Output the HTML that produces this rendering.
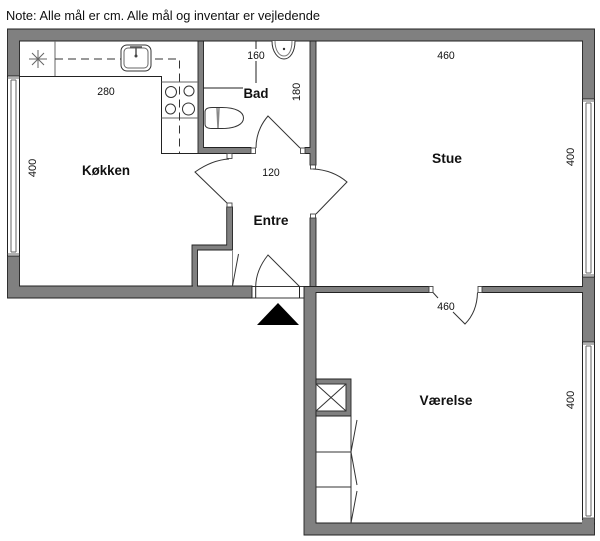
<!DOCTYPE html>
<html><head><meta charset="utf-8"><style>
html,body{margin:0;padding:0;background:#fff}
svg{display:block}
text{font-family:"Liberation Sans",sans-serif;fill:#111}
.w{fill:#808080;stroke:#222;stroke-width:.9}
.f{fill:#808080}
.j{fill:#fff;stroke:#444;stroke-width:.9}
.l{fill:none;stroke:#222;stroke-width:1}
.g{fill:none;stroke:#666;stroke-width:1}
.s{fill:none;stroke:#333;stroke-width:1}
.d{fill:none;stroke:#333;stroke-width:1;stroke-dasharray:8 5}
.b{font-weight:bold;font-size:14px;text-anchor:middle}
.n{font-size:11px;text-anchor:middle}
</style></head><body>
<svg width="600" height="541" viewBox="0 0 600 541" xmlns="http://www.w3.org/2000/svg">
<rect width="600" height="541" fill="#fff"/>
<text x="6" y="20" font-size="12.500" textLength="314" lengthAdjust="spacingAndGlyphs">Note: Alle mål er cm. Alle mål og inventar er vejledende</text>

<!-- outer walls -->
<path class="w" d="M7.500 29H594.500V99H582.500V41H19.500V76H7.500Z"/>
<path class="w" d="M7.500 256H19.500V286H252V298H7.500Z"/>
<path class="w" d="M582.500 277H594.500V342H582.500V292.500H482V286.500H582.500Z"/>
<path class="w" d="M304 286.500H429V292.500H316V523H594.500V535H304Z"/>
<path class="w" d="M582.500 520H594.500V524H582.500Z"/>
<rect class="f" x="582" y="518.500" width="12" height="10"/>
<rect class="f" x="305" y="287.500" width="10.500" height="240"/>
<rect class="f" x="316" y="524" width="270" height="10"/>

<!-- windows -->
<path class="l" d="M7.500 76V256M19.500 76V256M582.500 99V277M594.500 99V277M582.500 342V520M594.500 342V520"/>
<path class="g" d="M11 80V252M16 80V252M11 80H16M11 252H16M7.500 78H19.500M7.500 254H19.500"/>
<path class="g" d="M586 103V273M591 103V273M586 103H591M586 273H591M582.500 101H594.500M582.500 275H594.500"/>
<path class="g" d="M586 346V516M591 346V516M586 346H591M586 516H591M582.500 344H594.500M582.500 518H594.500"/>

<!-- inner walls -->
<path class="w" d="M198 41H203.500V147.500H251V153.500H198Z"/>
<path class="w" d="M310 41H316V165H310V153.500H305V147.500H310Z"/>
<path class="w" d="M310 218H316V286.500H310Z"/>
<path class="w" d="M226.700 207H232.500V250H197.500V286H192V245H226.700Z"/>
<rect class="f" x="311" y="146" width="4.500" height="10"/>
<rect class="f" x="193" y="285" width="4" height="2"/>

<!-- jambs -->
<rect class="j" x="251" y="148" width="4.500" height="5.500"/>
<rect class="j" x="300.500" y="148" width="4.500" height="5.500"/>
<rect class="j" x="227" y="153.500" width="5" height="5"/>
<rect class="j" x="310.500" y="165" width="5" height="4"/>
<rect class="j" x="227" y="203" width="5" height="4"/>
<rect class="j" x="310.500" y="214" width="5" height="4"/>
<rect class="j" x="429" y="286.500" width="4" height="6"/>
<rect class="j" x="478" y="286.500" width="4" height="6"/>

<!-- front door -->
<rect x="252" y="286.500" width="52" height="11.500" fill="#fff" stroke="#222" stroke-width=".9"/>
<path class="l" d="M255.700 286.500V298M299.500 286.500V298"/>
<path fill="#000" d="M278 303L299 325H257Z"/>

<!-- door swings -->
<path class="s" d="M229 159Q212 160 195 172L227 203"/>
<path class="s" d="M313 169Q333 170 347 182L316 214"/>
<path class="s" d="M256 148Q256 130 268 116L300 148"/>
<path class="s" d="M255.700 286.500Q256 270 268 255L299.500 286.500"/>
<path class="s" d="M477.500 292.500Q477 312 465 324L453 312M438 298L433 292.500"/>

<!-- kitchen -->
<path class="l" d="M19.500 76.500H161.500V153.500H198"/>
<path class="g" d="M55 41V76M161.500 82H198M161.500 118H198"/>
<path class="d" d="M55 59H121M155 59H179.500V153"/>
<rect x="121" y="45" width="30" height="26" rx="6" fill="#fff" stroke="#333" stroke-width="1"/>
<rect x="124" y="48" width="24" height="20" rx="4" fill="none" stroke="#666" stroke-width="1"/>
<path d="M130 47H142M136 47V55" stroke="#555" stroke-width="1.500" fill="none"/>
<circle cx="136" cy="56" r="1.500" fill="#444"/>
<path class="g" d="M29 59H47M38 50V68M32 53L44 65M44 53L32 65"/>
<g fill="#fff" stroke="#333" stroke-width="1">
<circle cx="171" cy="92" r="5.500"/><circle cx="189" cy="91" r="5"/>
<circle cx="170.500" cy="109" r="5"/><circle cx="188.500" cy="109" r="6"/>
</g>

<!-- bathroom -->
<path class="l" d="M256 41V49M256 61V83M203.500 88H243"/>
<path fill="#fff" stroke="#333" stroke-width="1" d="M272 41C272 52 278 59 284 59C290 59 295 52 295 41"/>
<path fill="none" stroke="#777" stroke-width="1" d="M275 41C275 50 279 56 284 56C289 56 292 50 292 41"/>
<circle cx="284" cy="49" r="1.200" fill="#333"/>
<path fill="#fff" stroke="#333" stroke-width="1" d="M205 112Q205 107.500 212 107.500H222C236 107.500 243.500 112 243.500 118C243.500 124 236 128.500 222 128.500H212Q205 128.500 205 124Z"/>
<path stroke="#888" stroke-width="1.500" fill="none" d="M217 108L218 128M219 108L218 128"/>

<!-- closet in entry -->
<path class="g" style="stroke:#888" d="M232.500 250V286"/>
<path class="s" d="M232.500 286L238.500 254"/>

<!-- bedroom closets -->
<path class="w" d="M316 379H351V416H316Z"/>
<rect x="316" y="384" width="30" height="27" fill="#fff" stroke="#333" stroke-width="1"/>
<path class="s" d="M316 384L346 411M346 384L316 411"/>
<path class="l" d="M316 416H351"/>
<path class="s" d="M351 416V523M316 452H351M316 487H351"/>
<path class="s" d="M351 452L357 420M351 452L357 485M351 523L357 491"/>

<!-- labels -->
<text class="n" x="106" y="95" textLength="17.500" lengthAdjust="spacingAndGlyphs">280</text>
<text class="n" transform="translate(36 168) rotate(-90)">400</text>
<text class="b" x="106" y="175" textLength="48" lengthAdjust="spacingAndGlyphs">Køkken</text>
<text class="n" x="256" y="59" textLength="17.500" lengthAdjust="spacingAndGlyphs">160</text>
<text class="b" x="256" y="98" textLength="25" lengthAdjust="spacingAndGlyphs">Bad</text>
<text class="n" transform="translate(300 92) rotate(-90)">180</text>
<text class="n" x="271" y="176" textLength="17.500" lengthAdjust="spacingAndGlyphs">120</text>
<text class="b" x="271" y="225" textLength="35" lengthAdjust="spacingAndGlyphs">Entre</text>
<text class="n" x="446" y="59" textLength="17.500" lengthAdjust="spacingAndGlyphs">460</text>
<text class="b" x="447" y="163" textLength="30" lengthAdjust="spacingAndGlyphs">Stue</text>
<text class="n" transform="translate(574 157) rotate(-90)">400</text>
<text class="n" x="446" y="310" textLength="17.500" lengthAdjust="spacingAndGlyphs">460</text>
<text class="b" x="446" y="405" textLength="53" lengthAdjust="spacingAndGlyphs">Værelse</text>
<text class="n" transform="translate(574 400) rotate(-90)">400</text>
</svg>
</body></html>
